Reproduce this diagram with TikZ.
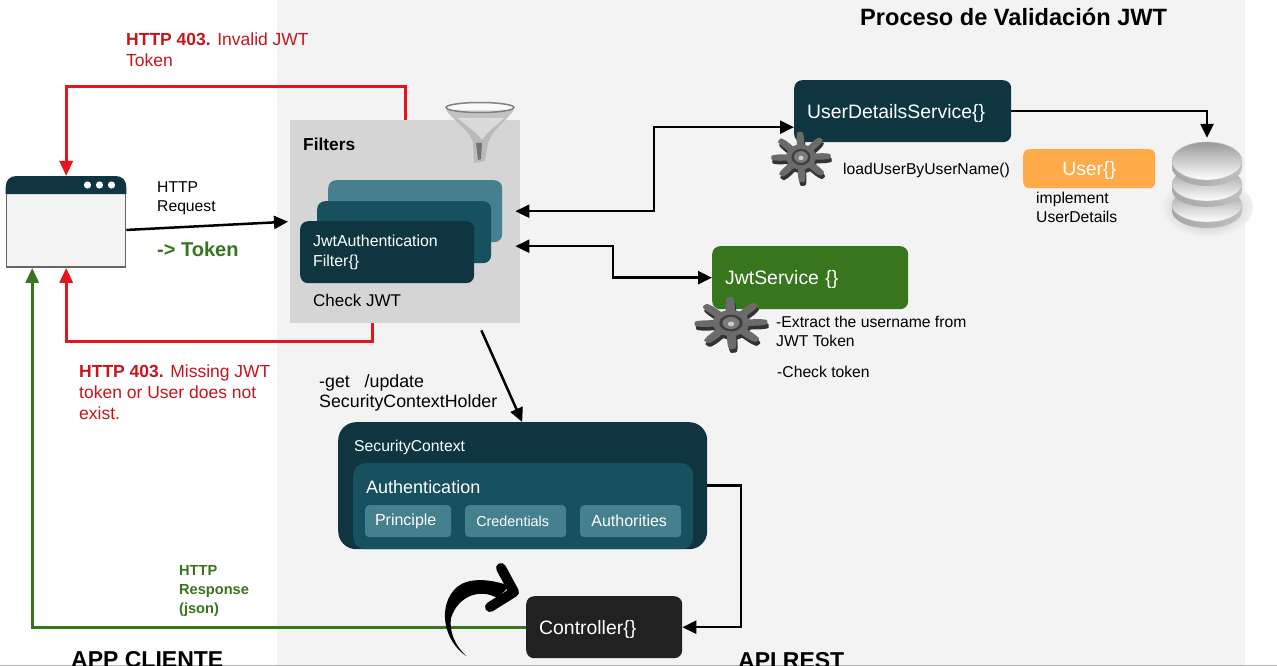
\documentclass[tikz,border=0pt]{standalone}
\usepackage{fontspec}
\setmainfont{Liberation Sans}
\usetikzlibrary{arrows.meta}
\definecolor{jwtdark}{HTML}{0F3640}
\definecolor{jwtmid}{HTML}{17505E}
\definecolor{jwtlight}{HTML}{45808F}
\definecolor{jwtgreen}{HTML}{38761D}
\definecolor{jwtred}{HTML}{E8141C}
\definecolor{jwtlabel}{HTML}{C4161C}
\definecolor{jwtorange}{HTML}{FFAB4A}
\definecolor{jwtback}{HTML}{F3F3F3}
\definecolor{jwtfilter}{HTML}{D5D5D5}
\definecolor{jwtcontrol}{HTML}{212121}
\newcommand{\gearicon}[4]{%
    \begin{scope}[shift={(#1,#2)}, xscale=#3, yscale=#4]
      \fill[black!80, shift={(1,4)}] plot[smooth cycle, samples=144, domain=0:357.5]
        (\x:{21+7*max(min(1.8*cos(8*\x+15)-0.4,1),-1)});
      \fill[black!58] plot[smooth cycle, samples=144, domain=0:357.5]
        (\x:{21+7*max(min(1.8*cos(8*\x+15)-0.4,1),-1)});
      \fill[black!75] (0,0) circle (9);
      \fill[black!52] (0,0) circle (6.5);
      \fill[black!20] (0,1) circle (2.5);
    \end{scope}}
\newcommand{\dbdisk}[2]{%
    \shade[left color=black!35, middle color=black!75, right color=black!25]
      (1172,#1) -- (1172,#1+6) arc[start angle=180, end angle=0, x radius=35, y radius=#2]
      -- (1242,#1) -- cycle;
    \shade[top color=black!40, bottom color=white, draw=black!25]
      (1207,#1) ellipse[x radius=35, y radius=#2];}
\tikzset{
  panel/.style={anchor=north west, rounded corners=8pt, inner ysep=0pt, inner xsep=13pt,
    text=white, align=left},
  lowtext/.style={text height=15pt, text depth=1pt},
  label/.style={anchor=west, inner sep=0pt, align=left, text=black,
    font=\fontsize{15.7}{19.5}\selectfont},
  pill/.style={anchor=north west, rounded corners=4pt, fill=jwtlight, text=white, inner sep=0pt,
    minimum height=32pt},
  flow/.style={draw=black, line width=2.5pt, ->, >={Triangle[length=14pt, width=13pt]}},
  denied/.style={draw=jwtred, line width=3pt, -{Triangle[length=15pt, width=13pt]}},
  answer/.style={draw=jwtgreen, line width=3pt, -{Triangle[length=15pt, width=13pt]}},
}
\begin{document}
\begin{tikzpicture}[x=1pt, y=-1pt]
    \useasboundingbox (0,0) rectangle (1277,666);
    \clip (0,0) rectangle (1277,666);
    \fill[white] (0,0) rectangle (1277,666);
    \fill[jwtback] (277,0) rectangle (1245,666);
    \fill[black!30] (0,664.5) rectangle (1277,666);

    \node[anchor=west, inner sep=0pt, font=\fontsize{23.6}{26}\selectfont\bfseries] (title) at (860,17)
      {Proceso de Validación JWT};
    \node[anchor=west, inner sep=0pt, font=\fontsize{23}{26}\selectfont\bfseries] (appclient) at (71,660) {APP CLIENTE};
    \node[anchor=west, inner sep=0pt, font=\fontsize{23}{26}\selectfont\bfseries] (apirest) at (738,661) {API REST};

    % browser
    \node[anchor=north west, minimum width=120pt, minimum height=91.5pt, inner sep=0pt] (browser) at (6,176) {};
    \draw[black!60, line width=1.5pt, fill=jwtback] (6.5,190) rectangle (125.5,267);
    \fill[jwtdark] (5.7,194) -- (5.7,187) .. controls (5.7,180) and (10,176) .. (16.7,176)
      -- (115.3,176) .. controls (122,176) and (126.3,180) .. (126.3,187) -- (126.3,194) -- cycle;
    \foreach \px in {87.5,99.5,111.5}
      \fill[white] (\px,185) circle (3.6);

    % filters
    \node[anchor=north west, fill=jwtfilter, minimum width=230pt, minimum height=203pt, inner sep=0pt]
      (filters) at (290,120) {};
    \node[label, font=\fontsize{17.3}{20}\selectfont\bfseries] (filterstitle) at (303,144) {Filters};
    \node[panel, fill=jwtlight, minimum width=174pt, minimum height=62pt] (cardc) at (328,180) {};
    \node[panel, fill=jwtmid, minimum width=174pt, minimum height=62pt] (cardb) at (317,201) {};
    \node[panel, fill=jwtdark, text width=148pt, minimum height=62pt,
      font=\fontsize{15.9}{19.5}\selectfont] (carda) at (300,221) {JwtAuthentication\\Filter\{\}};
    \node[label, font=\fontsize{17}{20}\selectfont] (checkjwt) at (313,300) {Check JWT};

    % funnel
    \fill[black!30, opacity=0.75] (446,110) .. controls (455,122) and (471,132) .. (473,143)
      -- (474,163) -- (485,161) -- (488,143) .. controls (492,130) and (505,122) .. (514,110) -- cycle;
    \fill[white, opacity=0.45] (458,118) .. controls (465,126) and (478,132) .. (482,140)
      .. controls (488,130) and (498,125) .. (504,118) -- cycle;
    \fill[black!55] (476,143) -- (478,160) -- (481,159) -- (482,143) -- cycle;
    \draw[black!50, line width=1.5pt, fill=white, fill opacity=0.5] (480,107.5) ellipse[x radius=34, y radius=5];

    % services
    \node[panel, lowtext, fill=jwtdark, text width=191pt, minimum height=62pt,
      font=\fontsize{19.4}{22}\selectfont] (userservice) at (794,80) {UserDetailsService\{\}};
    \node[panel, lowtext, fill=jwtgreen, text width=170pt, minimum height=63pt,
      font=\fontsize{19.4}{22}\selectfont] (jwtservice) at (712,246) {JwtService \{\}};
    \node[panel, lowtext, fill=jwtorange, rounded corners=6pt, inner xsep=0pt, text width=132pt, align=center,
      minimum height=39pt, font=\fontsize{19.4}{22}\selectfont] (userbox) at (1023,149) {User\{\}};
    \gearicon{801}{157}{1.06}{0.9}
    \gearicon{731}{323}{1.3}{0.93}
    \node[label] (loaduser) at (843,170) {loadUserByUserName()};
    \node[label] (implement) at (1036,207.5) {implement\\UserDetails};
    \node[label] (extract) at (776,331.5) {-Extract the username from\\JWT Token};
    \node[label] (checktoken) at (777,372) {-Check token};

    % database
    \shade[inner color=black!35, outer color=jwtback] (1207,207) ellipse[x radius=46, y radius=30];
    \dbdisk{205}{17}
    \dbdisk{184}{17}
    \dbdisk{161}{19}
    \node[minimum width=70pt, minimum height=92pt, inner sep=0pt] (database) at (1207,184) {};

    % security context
    \node[panel, rounded corners=18pt, fill=jwtdark, minimum width=369pt, minimum height=127pt]
      (security) at (338,422) {};
    \node[label, text=white] (securitytitle) at (354,447) {SecurityContext};
    \node[panel, rounded corners=12pt, fill=jwtmid, minimum width=340pt, minimum height=86pt]
      (authbox) at (353,463) {};
    \node[label, text=white, font=\fontsize{18}{22}\selectfont] (authtitle) at (366,487) {Authentication};
    \node[pill, minimum width=86pt, font=\fontsize{16}{18}\selectfont] (principle) at (365,505) {Principle\hspace*{5pt}};
    \node[pill, minimum width=101pt, font=\fontsize{14.4}{16}\selectfont] (credentials) at (465,505) {Credentials\hspace*{6pt}};
    \node[pill, minimum width=101pt, font=\fontsize{16}{18}\selectfont] (authorities) at (580,505) {Authorities\hspace*{3pt}};

    % controller
    \node[panel, lowtext, fill=jwtcontrol, text width=130pt, minimum height=62pt,
      font=\fontsize{19.4}{22}\selectfont] (controller) at (526,596) {Controller\{\}};

    % labels
    \node[label, text=jwtlabel, font=\fontsize{17.5}{21}\selectfont] (invalid) at (126,50)
      {\textbf{HTTP 403.} Invalid JWT\\Token};
    \node[label, text=jwtlabel, font=\fontsize{17.5}{21}\selectfont] (missing) at (79,392)
      {\textbf{HTTP 403.} Missing JWT\\token or User does not\\exist.};
    \node[label] (request) at (157,198) {HTTP\\Request};
    \node[label, text=jwtgreen, font=\fontsize{20}{24}\selectfont\bfseries] (token) at (157,249) {-> Token};
    \node[label, text=jwtgreen, font=\fontsize{14.6}{19}\selectfont\bfseries] (response) at (179,591)
      {HTTP\\Response\\(json)};
    \node[label, font=\fontsize{17.8}{20}\selectfont] (holder) at (319,393)
      {-get \ \ /update\\SecurityContextHolder};

    % connectors
    \coordinate (topred) at (200,87);
    \coordinate (lowred) at (200,341);
    \coordinate (turnuser) at (654,160);
    \coordinate (turnjwt) at (613,260);
    \coordinate (outright) at (741,560);
    \draw[denied] ([xshift=115pt]filters.north west) |- (topred) -| (browser.north);
    \draw[denied] ([xshift=82pt]filters.south west) |- (lowred) -| (browser.south);
    \draw[flow] ([yshift=-8pt]browser.east) -- ([xshift=-2pt]filters.west);
    \draw[flow, <->] ([shift={(-5pt,10.5pt)}]filters.east) -| (turnuser) |- ([yshift=-16pt]userservice.west);
    \draw[flow, <->] ([shift={(-5pt,-24.5pt)}]filters.east) -| (turnjwt) |- (jwtservice.west);
    \draw[flow] ([shift={(-39pt,-7pt)}]filters.south east) -- ([xshift=-0.5pt]security.north);
    \draw[flow] (userservice.east) -| (database.north);
    \draw[flow] (security.east) -| (outright) |- (controller.east);
    \draw[answer] (controller.west) -| ([xshift=-34pt]browser.south);

    % curved arrow
    \fill[black] (466,656) .. controls (443,640) and (437,605) .. (457,587)
      .. controls (468,578) and (488,578) .. (510,586) -- (497,598)
      .. controls (480,588) and (458,596) .. (451,618)
      .. controls (449,632) and (455,645) .. (466,656) -- cycle;
    \draw[black, line width=10pt, line cap=round, line join=round] (501,568) -- (514,592) -- (490,607);
\end{tikzpicture}
\end{document}
